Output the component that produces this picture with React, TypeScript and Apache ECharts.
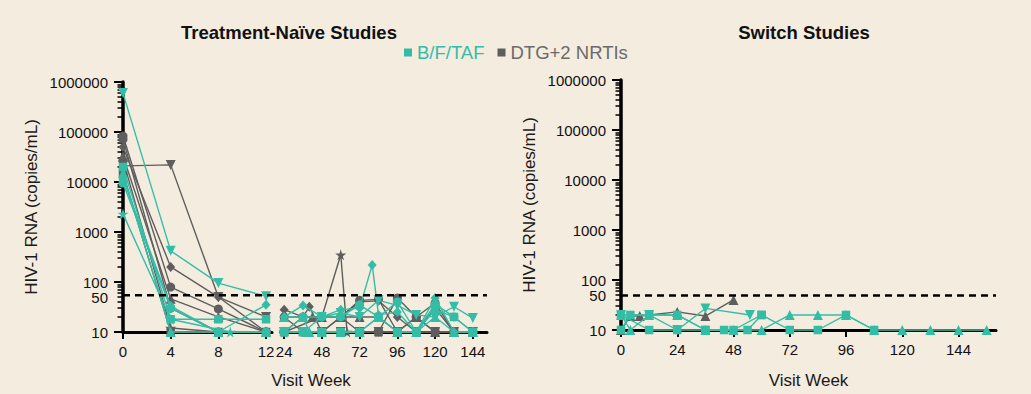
import React, { useEffect, useRef } from "react";
import * as echarts from "echarts";

const TEAL = "#33BDA6";
const GRAY = "#5E5E5E";
const BG = "#F4ECDF";
const FONT = "'Liberation Sans', Arial, Helvetica, sans-serif";

const legendNames = ["B/F/TAF", "DTG+2 NRTIs"];
const panelTitles = ["Treatment-Naïve Studies", "Switch Studies"];
const yAxisName = "HIV-1 RNA (copies/mL)";
const xAxisName = "Visit Week";
const earlyTicks = [0, 4, 8, 12];
const lateTicks = [24, 48, 72, 96, 120, 144];
const switchTicks = [0, 24, 48, 72, 96, 120, 144];
const yLabelValues = [10, 50, 100, 1000, 10000, 100000, 1000000];
const yMajorValues = [10, 100, 1000, 10000, 100000, 1000000];
const yMinorValues = [
  20, 30, 40, 50, 60, 70, 80, 90,
  200, 300, 400, 500, 600, 700, 800, 900,
  2000, 3000, 4000, 5000, 6000, 7000, 8000, 9000,
  20000, 30000, 40000, 50000, 60000, 70000, 80000, 90000,
  200000, 300000, 400000, 500000, 600000, 700000, 800000, 900000,
];
const threshold = 50;

// Treatment-naive, B/F/TAF participants
const nbTriDownEarly = [[0, 600000], [4, 420], [8, 95], [12, 52]];
const nbTriDownLate = [[24, 10], [36, 10], [48, 20], [60, 24], [72, 20], [84, 43], [96, 34], [108, 22], [120, 20], [132, 32], [144, 19]];
const nbSquareEarly = [[0, 20000], [4, 18], [8, 18], [12, 18]];
const nbSquareLate = [[24, 10], [36, 10], [48, 10], [60, 10], [72, 10], [84, 20], [96, 10], [108, 10], [120, 28], [132, 20], [144, 10]];
const nbDiamondEarly = [[0, 11500], [4, 33], [8, 10], [12, 35]];
const nbDiamondLate = [[24, 20], [36, 34], [48, 20], [60, 28], [72, 30], [80, 220], [84, 22], [96, 25], [108, 10], [120, 48], [132, 10], [144, 10]];
const nbCircleEarly = [[0, 9500], [4, 30], [8, 10], [12, 10]];
const nbCircleLate = [[24, 10], [36, 20], [48, 20], [60, 20], [72, 35], [84, 20], [96, 40], [108, 10], [120, 36], [132, 20], [144, 10]];
const nbStarEarly = [[0, 2300], [4, 18], [9, 10]];
const nbStarLate = [[24, 10], [48, 10], [72, 10]];
const nbTriUpEarly = [[0, 15000], [4, 10], [8, 10], [12, 10]];
const nbTriUpLate = [[24, 20], [36, 20], [40, 10], [48, 10], [60, 10], [72, 10], [84, 20], [96, 10], [108, 10], [120, 20], [132, 10], [144, 10]];

// Treatment-naive, DTG+2 NRTIs participants
const ndCircleEarly = [[0, 83000], [4, 79], [8, 29], [12, 10]];
const ndCircleLate = [[24, 10], [36, 20], [48, 20], [60, 20], [72, 10], [84, 10], [96, 48], [108, 20], [120, 10], [132, 10], [144, 10]];
const ndCircle2Early = [[0, 72000], [4, 30], [8, 10], [12, 10]];
const ndCircle2Late = [[24, 20], [36, 10], [48, 10], [60, 20], [72, 43], [84, 45], [96, 10], [108, 20], [120, 38], [132, 10], [144, 10]];
const ndTriUpEarly = [[0, 33000], [4, 46], [8, 20], [12, 10]];
const ndTriUpLate = [[24, 20], [36, 20], [42, 20], [48, 20], [60, 20], [72, 20], [84, 20], [96, 10], [108, 20], [120, 10], [132, 10], [144, 10]];
const ndTriDownEarly = [[0, 21000], [4, 22000], [8, 50], [12, 20]];
const ndTriDownLate = [[24, 10], [48, 10], [60, 10], [72, 10], [84, 10], [96, 10], [108, 10], [120, 10], [132, 10], [144, 10]];
const ndDiamondEarly = [[0, 50000], [4, 200], [8, 50], [12, 10]];
const ndDiamondLate = [[24, 28], [36, 20], [40, 32], [48, 10], [60, 20], [72, 40], [84, 42], [96, 20], [108, 10], [120, 30], [132, 10], [144, 10]];
const ndSquareEarly = [[0, 15000], [4, 10], [8, 10], [12, 10]];
const ndSquareLate = [[24, 10], [36, 10], [48, 10], [60, 10], [72, 10], [84, 10], [96, 10], [108, 10], [120, 10], [132, 10], [144, 10]];
const ndStarEarly = [[0, 28000], [4, 12], [8, 10], [12, 10]];
const ndStarLate = [[24, 10], [48, 20], [60, 350], [64, 10], [72, 10], [84, 10]];

// Switch studies
const swGrayTriUp = [[0, 10], [4, 19], [8, 19], [24, 23], [36, 19], [48, 40]];
const swSquare = [[0, 20], [12, 10], [24, 10], [36, 10], [44, 10], [54, 10], [60, 20], [72, 10], [84, 10], [96, 20], [108, 10]];
const swTriUp = [[0, 20], [4, 10], [12, 20], [24, 20], [36, 10], [48, 10], [60, 10], [72, 20], [84, 20], [96, 20], [108, 10], [120, 10], [132, 10], [144, 10], [156, 10]];
const swTriDown = [[0, 20], [12, 20], [24, 10], [36, 27], [55, 20]];
const swSquare2 = [[0, 10], [4, 20], [12, 20], [24, 20], [36, 10], [48, 10], [60, 20]];

const naive = [
  { arm: 1, shape: "circle", early: ndCircleEarly, late: ndCircleLate },
  { arm: 1, shape: "circle", early: ndCircle2Early, late: ndCircle2Late },
  { arm: 1, shape: "triangle", early: ndTriUpEarly, late: ndTriUpLate },
  { arm: 1, shape: "triangleDown", early: ndTriDownEarly, late: ndTriDownLate },
  { arm: 1, shape: "diamond", early: ndDiamondEarly, late: ndDiamondLate },
  { arm: 1, shape: "rect", early: ndSquareEarly, late: ndSquareLate },
  { arm: 1, shape: "star", early: ndStarEarly, late: ndStarLate },
  { arm: 0, shape: "triangleDown", early: nbTriDownEarly, late: nbTriDownLate },
  { arm: 0, shape: "rect", early: nbSquareEarly, late: nbSquareLate },
  { arm: 0, shape: "diamond", early: nbDiamondEarly, late: nbDiamondLate },
  { arm: 0, shape: "circle", early: nbCircleEarly, late: nbCircleLate },
  { arm: 0, shape: "star", early: nbStarEarly, late: nbStarLate },
  { arm: 0, shape: "triangle", early: nbTriUpEarly, late: nbTriUpLate },
];

const switchers = [
  { arm: 1, shape: "triangle", data: swGrayTriUp },
  { arm: 0, shape: "rect", data: swSquare },
  { arm: 0, shape: "triangle", data: swTriUp },
  { arm: 0, shape: "triangleDown", data: swTriDown },
  { arm: 0, shape: "rect", data: swSquare2 },
];

const STAR = "path://M50,0 L61,35 L98,35 L68,57 L79,91 L50,70 L21,91 L32,57 L2,35 L39,35 Z";

function symbolFor(shape: string) {
  switch (shape) {
    case "triangleDown":
      return { symbol: "triangle", symbolRotate: 180, symbolSize: 10 };
    case "triangle":
      return { symbol: "triangle", symbolSize: 10 };
    case "diamond":
      return { symbol: "diamond", symbolSize: [9, 10] };
    case "rect":
      return { symbol: "rect", symbolSize: 8.5 };
    case "star":
      return { symbol: STAR, symbolSize: 11 };
    default:
      return { symbol: "circle", symbolSize: 9 };
  }
}

function lineSeries(arm: number, shape: string, data: number[][], xi: number, yi: number) {
  const color = arm === 0 ? TEAL : GRAY;
  return {
    type: "line",
    name: legendNames[arm],
    xAxisIndex: xi,
    yAxisIndex: yi,
    data,
    ...symbolFor(shape),
    showSymbol: true,
    lineStyle: { color, width: 1.4 },
    itemStyle: { color },
    clip: false,
    silent: true,
    emphasis: { disabled: true },
    z: arm === 0 ? 4 : 3,
  };
}

const labelStyle = { fontSize: 15, color: "#111", fontFamily: FONT };
const nameStyle = { fontSize: 17, color: "#1a1a1a", fontFamily: FONT };

function xAxisCfg(gridIndex: number, min: number, max: number, ticks: number[], name?: string) {
  return {
    type: "value",
    gridIndex,
    position: "bottom",
    min,
    max,
    axisLine: { show: true, onZero: false, lineStyle: { color: "#000", width: 3 } },
    axisTick: { show: true, length: 7, lineStyle: { color: "#000", width: 2 }, customValues: ticks },
    axisLabel: { show: true, customValues: ticks, margin: 12, ...labelStyle, formatter: (v: number) => String(v) },
    splitLine: { show: false },
    minorTick: { show: false },
    name,
    nameLocation: "middle",
    nameGap: 42,
    nameTextStyle: nameStyle,
  };
}

function yMain(gridIndex: number) {
  return {
    type: "log",
    logBase: 10,
    gridIndex,
    position: "left",
    min: 10,
    max: 1000000,
    axisLine: { show: true, onZero: false, lineStyle: { color: "#000", width: 3.5 } },
    axisTick: { show: true, length: 9, lineStyle: { color: "#000", width: 2 }, customValues: yMajorValues },
    axisLabel: {
      show: true,
      customValues: yLabelValues,
      margin: 15,
      ...labelStyle,
      formatter: (v: number) => String(Math.round(v)),
    },
    splitLine: { show: false },
    minorTick: { show: false },
    name: yAxisName,
    nameLocation: "middle",
    nameGap: 83,
    nameTextStyle: nameStyle,
  };
}

function yMinor(gridIndex: number) {
  return {
    type: "log",
    logBase: 10,
    gridIndex,
    position: "left",
    offset: 0,
    min: 10,
    max: 1000000,
    axisLine: { show: false, onZero: false },
    axisTick: { show: true, length: 5.5, lineStyle: { color: "#000", width: 1.5 }, customValues: yMinorValues },
    axisLabel: { show: false },
    splitLine: { show: false },
  };
}

function yHidden(gridIndex: number) {
  return { type: "log", logBase: 10, gridIndex, position: "left", min: 10, max: 1000000, show: false };
}

const dashStyle = { color: "#000", width: 2.5, type: [7, 5] };

function buildOption() {
  const series: any[] = [];
  // threshold line across the broken left axis (overlay grid)
  series.push({
    type: "line",
    xAxisIndex: 2,
    yAxisIndex: 3,
    data: [[0, threshold], [1, threshold]],
    symbol: "none",
    lineStyle: dashStyle,
    silent: true,
    z: 5,
    clip: false,
  });
  naive.forEach((p) => {
    series.push(lineSeries(p.arm, p.shape, p.early, 0, 0));
    series.push(lineSeries(p.arm, p.shape, p.late, 1, 2));
  });
  switchers.forEach((p, i) => {
    const s: any = lineSeries(p.arm, p.shape, p.data, 3, 4);
    if (i === 0) {
      s.markLine = {
        symbol: "none",
        silent: true,
        label: { show: false },
        lineStyle: dashStyle,
        data: [{ yAxis: threshold }],
        z: 5,
      };
    }
    series.push(s);
  });

  return {
    animation: false,
    backgroundColor: BG,
    textStyle: { fontFamily: FONT },
    legend: {
      left: 399,
      top: 38,
      icon: "rect",
      itemWidth: 8,
      itemHeight: 8,
      itemGap: 13,
      selectedMode: false,
      textStyle: { fontSize: 18.5, fontFamily: FONT },
      data: [
        { name: legendNames[0], textStyle: { color: TEAL } },
        { name: legendNames[1], textStyle: { color: "#6a6a6a" } },
      ],
    },
    graphic: [
      {
        type: "text",
        x: 289,
        y: 32,
        style: { text: panelTitles[0], fontSize: 18.5, fontWeight: "bold", fontFamily: FONT, fill: "#111", align: "center", verticalAlign: "middle" },
      },
      {
        type: "text",
        x: 804,
        y: 32,
        style: { text: panelTitles[1], fontSize: 18.5, fontWeight: "bold", fontFamily: FONT, fill: "#111", align: "center", verticalAlign: "middle" },
      },
    ],
    grid: [
      { left: 123, top: 82, width: 149, height: 250 },
      { left: 281, top: 82, width: 206, height: 250 },
      { left: 123, top: 82, width: 364, height: 250 },
      { left: 621, top: 80, width: 375, height: 250 },
    ],
    xAxis: [
      xAxisCfg(0, 0, 12.5, earlyTicks),
      xAxisCfg(1, 22, 153, lateTicks),
      {
        type: "value",
        gridIndex: 2,
        position: "bottom",
        min: 0,
        max: 1,
        axisLine: { show: false },
        axisTick: { show: false },
        axisLabel: { show: false },
        splitLine: { show: false },
        name: xAxisName,
        nameLocation: "middle",
        nameGap: 42,
        nameTextStyle: { ...nameStyle, padding: [0, 0, 0, 12] },
      },
      xAxisCfg(3, 0, 160, switchTicks, xAxisName),
    ],
    yAxis: [yMain(0), yMinor(0), yHidden(1), yHidden(2), yMain(3), yMinor(3)],
    series,
  };
}

export default function App() {
  const ref = useRef<HTMLDivElement>(null);
  useEffect(() => {
    if (!ref.current) return;
    const chart = echarts.init(ref.current, null, { renderer: "svg" });
    chart.setOption(buildOption() as any);
    return () => chart.dispose();
  }, []);
  return (
    <div
      ref={ref}
      style={{ position: "fixed", left: 0, top: 0, width: 1031, height: 394, background: BG }}
    />
  );
}
